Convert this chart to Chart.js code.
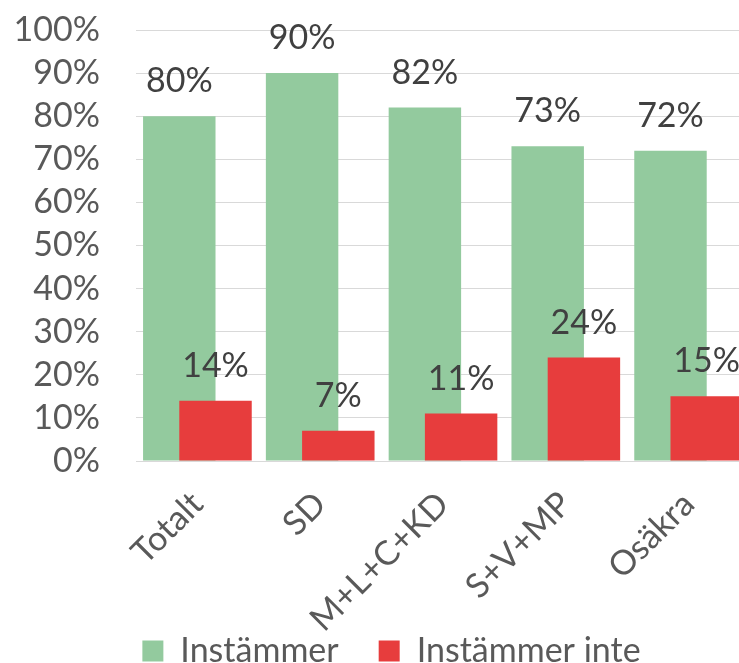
<!DOCTYPE html>
<html>
<head>
<meta charset="utf-8">
<script src="https://cdn.jsdelivr.net/npm/chart.js@4.4.1/dist/chart.umd.min.js"></script>
<style>
  html, body { margin: 0; padding: 0; background: #fff; overflow: hidden; }
  #frame { width: 739px; height: 663px; overflow: hidden; position: relative; }
  #box { width: 780px; height: 678px; position: absolute; left: 0; top: 0; }
</style>
</head>
<body>
<div id="frame"><div id="box"><canvas id="chart"></canvas></div></div>
<script>
/* --------------- Data --------------------- */
const categories = ["Totalt", "SD", "M+L+C+KD", "S+V+MP", "Osäkra"];
const agree = [80, 90, 82, 73, 72];
const disagree = [14, 7, 11, 24, 15];
const yTicks = [0, 10, 20, 30, 40, 50, 60, 70, 80, 90, 100];

const FONT = "Lato";
const SIZE = 34;
const GREEN = "#93ca9e";
const RED = "#e73d3d";

/* --------------- Draw datasets in index order (red over green) --------------------- */
const drawOrder = {
  id: "drawOrder",
  beforeDatasetsDraw(chart) {
    chart.getSortedVisibleDatasetMetas().forEach((meta) => meta.controller.draw());
    return false;
  },
};

/* --------------- Value labels above bars --------------------- */
const valueLabels = {
  id: "valueLabels",
  afterDraw(chart) {
    const ctx = chart.ctx;
    ctx.save();
    ctx.font = SIZE + "px " + FONT;
    ctx.fillStyle = "#404040";
    ctx.textAlign = "center";
    ctx.textBaseline = "alphabetic";
    chart.data.datasets.forEach((ds, i) => {
      chart.getDatasetMeta(i).data.forEach((bar, j) => {
        ctx.fillText(ds.data[j] + "%", bar.x, bar.y - 24);
      });
    });
    ctx.restore();
  },
};

/* --------------- Legend nudge + let rotated labels run past the axis box --------------------- */
const layoutTweaks = {
  id: "layoutTweaks",
  afterLayout(chart) {
    chart.legend.left += 9;
    chart.legend.right += 9;
    chart.scales.x.bottom = chart.height;
  },
};

new Chart(document.getElementById("chart"), {
  type: "bar",
  plugins: [drawOrder, valueLabels, layoutTweaks],
  data: {
    labels: categories,
    datasets: [
      {
        label: "Instämmer",
        data: agree,
        backgroundColor: GREEN,
        categoryPercentage: 0.59,
        barPercentage: 2,
      },
      {
        label: "Instämmer inte",
        data: disagree,
        backgroundColor: RED,
        categoryPercentage: 0.59,
        barPercentage: 2,
      },
    ],
  },
  options: {
    responsive: true,
    maintainAspectRatio: false,
    animation: false,
    layout: { padding: { left: 15, right: 30, top: 30, bottom: 0 } },
    plugins: {
      tooltip: { enabled: false },
      legend: {
        position: "bottom",
        labels: {
          color: "#595959",
          font: { family: FONT, size: SIZE },
          boxWidth: 21,
          boxHeight: 21,
          padding: 40,
        },
      },
    },
    scales: {
      x: {
        grid: { display: false },
        border: { display: true, color: "#d9d9d9", width: 1 },
        ticks: {
          color: "#595959",
          font: { family: FONT, size: SIZE },
          minRotation: 45,
          maxRotation: 45,
          padding: 15,
        },
        afterFit: (scale) => {
          scale.paddingLeft = 0;
          scale.paddingRight = 0;
          scale.height = 133;
        },
      },
      y: {
        min: 0,
        max: 100,
        afterBuildTicks: (axis) => {
          axis.ticks = yTicks.map((v) => ({ value: v }));
        },
        grid: { color: "#d9d9d9", drawTicks: false },
        border: { display: false },
        ticks: {
          autoSkip: false,
          color: "#595959",
          font: { family: FONT, size: SIZE },
          padding: 36,
          callback: (v) => v + "%",
        },
        afterFit: (scale) => {
          scale.paddingTop = 0;
          scale.paddingBottom = 0;
          scale.width = 121;
        },
      },
    },
  },
});
</script>
</body>
</html>
